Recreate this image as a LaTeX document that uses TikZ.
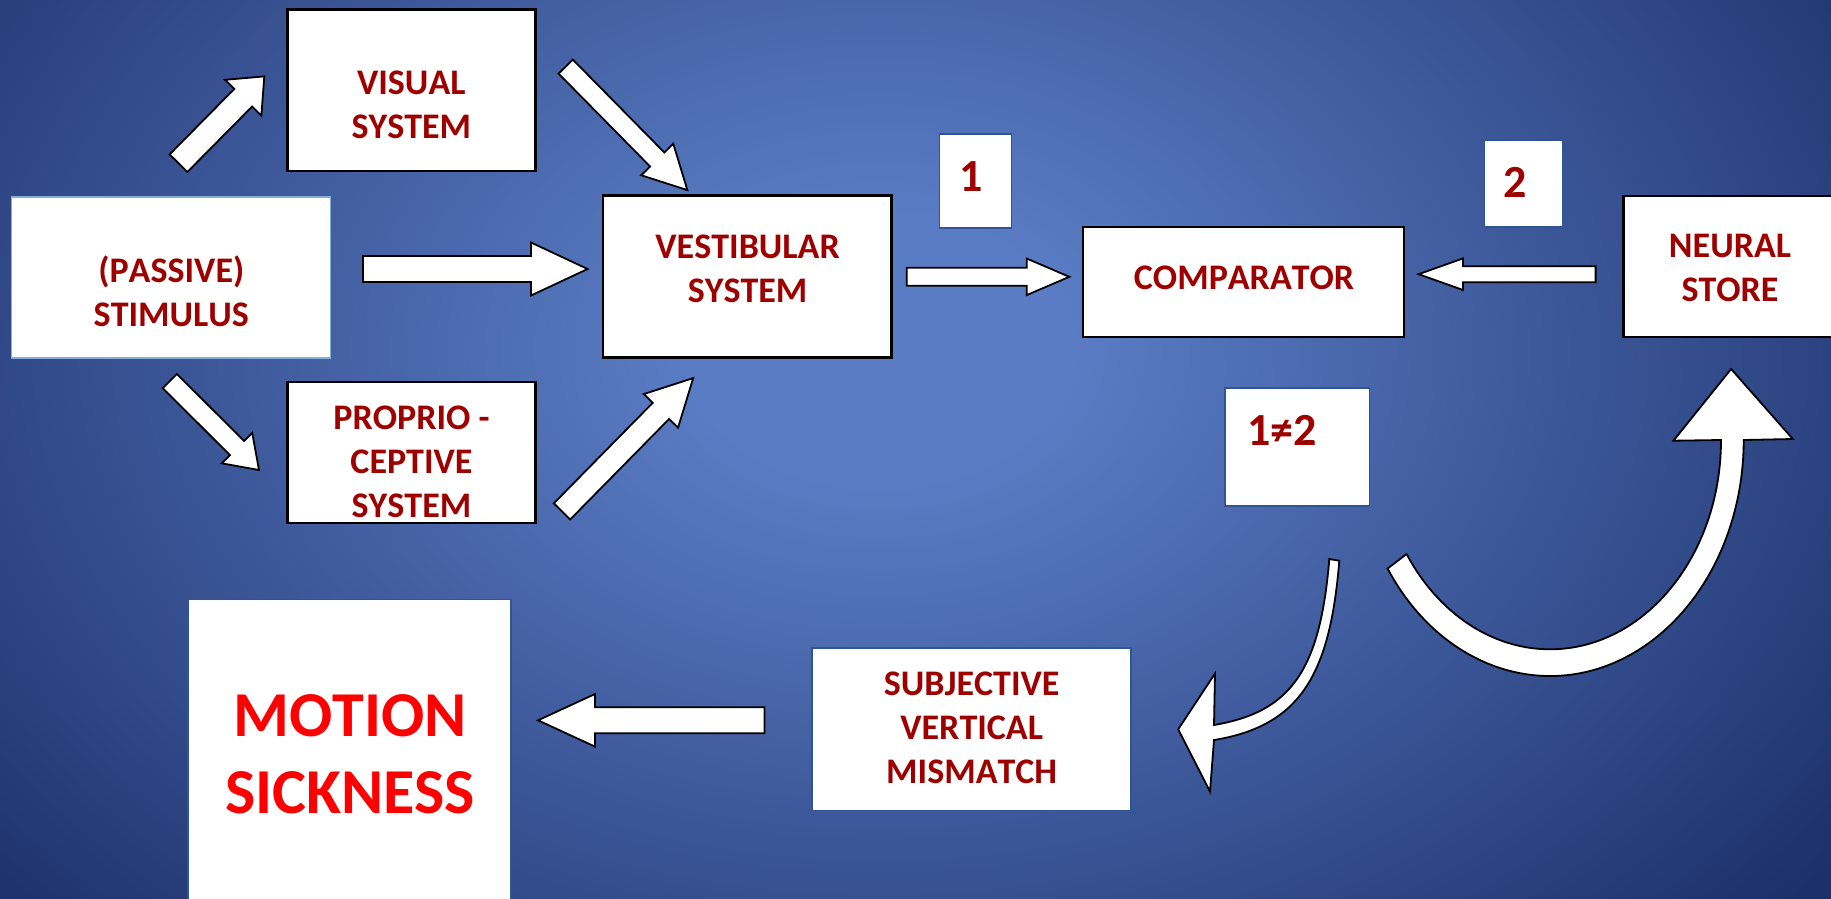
\documentclass[tikz,border=0pt]{standalone}
\usepackage{fontspec}
\setmainfont{Carlito}[Kerning=Off]
\usetikzlibrary{calc}

\definecolor{bglight}{RGB}{90,124,196}
\definecolor{bgdark}{RGB}{28,48,106}
\definecolor{labelred}{RGB}{158,0,0}
\definecolor{alertred}{RGB}{255,0,0}
\definecolor{boxblue}{RGB}{47,85,151}
\definecolor{paleblue}{RGB}{130,175,215}

% slide background: light centre fading to dark blue
\pgfdeclareradialshading{slidebg}{\pgfpoint{0bp}{0bp}}{%
  color(0bp)=(bglight); color(4bp)=(bglight); color(25bp)=(bgdark); color(50bp)=(bgdark)}

\tikzset{
  panel/.style={rectangle, fill=white, draw=black, line width=2.5pt, inner sep=0pt},
  bluepanel/.style={panel, draw=boxblue, line width=1.6pt},
  stimpanel/.style={panel, draw=paleblue, line width=1.5pt},
  boxtext/.style={text=labelred, font=\bfseries\fontsize{36}{44}\selectfont, align=center, inner sep=0pt},
  numtext/.style={boxtext, font=\bfseries\fontsize{46}{55}\selectfont},
  alerttext/.style={boxtext, text=alertred, font=\bfseries\fontsize{64}{76.5}\selectfont},
  barrow/.style={fill=white, draw=black, line width=1.8pt, line join=miter},
}

% block arrow: #1 tail, #2 tip, #3 half shaft width, #4 half head width, #5 head length
\newcommand\blockarrow[5]{%
  \coordinate (ba-h) at ($(#2)!#5!(#1)$);
  \filldraw[barrow] ($(#1)!#3!90:(#2)$) -- ($(ba-h)!#3!90:(#2)$) -- ($(ba-h)!#4!90:(#2)$)
    -- (#2) -- ($(ba-h)!#4!-90:(#2)$) -- ($(ba-h)!#3!-90:(#2)$) -- ($(#1)!#3!-90:(#2)$) -- cycle;
}

\begin{document}
\begin{tikzpicture}[x=1pt, y=-1pt]
\useasboundingbox (0,0) rectangle (1831,898);
\clip (-4,-4) rectangle (1835,902);
\fill[bgdark] (-4,-4) rectangle (1835,902);
\shade[shading=slidebg] (880,350) ellipse [x radius=1200, y radius=850];

% boxes
\node[stimpanel, minimum width=318.6pt, minimum height=161pt] (stimulus) at (171,277.5) {};
\node[panel, minimum width=248pt, minimum height=161.2pt] (visual) at (411.7,90.2) {};
\node[panel, minimum width=248pt, minimum height=141pt] (proprio) at (411.7,452.5) {};
\node[panel, minimum width=288.8pt, minimum height=161.8pt] (vestibular) at (747.2,276.5) {};
\node[bluepanel, minimum width=72pt, minimum height=94pt] (one) at (975.5,180.7) {};
\node[panel, minimum width=320.8pt, minimum height=109.7pt] (comparator) at (1243.6,281.9) {};
\node[bluepanel, minimum width=77.7pt, minimum height=87pt] (two) at (1523.5,183.5) {};
\node[panel, minimum width=236.4pt, minimum height=140.7pt] (neural) at (1741.8,266.4) {};
\node[bluepanel, minimum width=144.6pt, minimum height=118.3pt] (neq) at (1297,446.9) {};
\node[bluepanel, minimum width=319.3pt, minimum height=162.6pt] (subjective) at (971.4,729) {};
\node[bluepanel, minimum width=323.3pt, minimum height=320.7pt] (motion) at (349.6,759.7) {};

% box texts
\node[boxtext] (stimulus-text) at (171.3,291) {(PASSIVE)\\STIMULUS};
\node[boxtext] (visual-text) at (411.3,104.5) {VISUAL\\SYSTEM};
\node[boxtext] (proprio-text) at (411.5,462) {PROPRIO -\\CEPTIVE\\SYSTEM};
\node[boxtext] (vestibular-text) at (747.6,268.6) {VESTIBULAR\\SYSTEM};
\node[boxtext] (comparator-text) at (1244.1,278.3) {COMPARATOR};
\node[boxtext] (neural-text) at (1730,268.4) {NEURAL\\STORE};
\node[boxtext] (subjective-text) at (971.7,727.5) {SUBJECTIVE\\VERTICAL\\MISMATCH};
\node[alerttext] (motion-text) at (350.1,754.2) {MOTION\\SICKNESS};
\node[numtext] (one-text) at (970.8,176.7) {1};
\node[numtext] (two-text) at (1515.3,182) {2};
\node[numtext] (neq-text) at (1281.8,430.3) {1≠2};

% straight block arrows
\coordinate (sv-t) at (178.5,163.2);  \coordinate (sv-h) at (264.3,76.4);
\coordinate (vv-t) at (565.7,66.6);   \coordinate (vv-h) at (687.4,190.1);
\coordinate (st-t) at (363,269);      \coordinate (st-h) at (587.6,269);
\coordinate (sp-t) at (169.8,381);    \coordinate (sp-h) at (259,470);
\coordinate (pv-t) at (562,511.4);    \coordinate (pv-h) at (693.2,378.1);
\coordinate (vc-t) at (906.7,276.8);  \coordinate (vc-h) at (1069.3,276.8);
\coordinate (nc-t) at (1595.6,274.2); \coordinate (nc-h) at (1418.6,274.2);
\coordinate (sm-t) at (764.4,720.3);  \coordinate (sm-h) at (538,720.3);

\blockarrow{sv-t}{sv-h}{12.5pt}{25.5pt}{30pt}
\blockarrow{vv-t}{vv-h}{10pt}{22.5pt}{43pt}
\blockarrow{st-t}{st-h}{13pt}{26.5pt}{56.6pt}
\blockarrow{sp-t}{sp-h}{10pt}{21.5pt}{31pt}
\blockarrow{pv-t}{pv-h}{11.5pt}{24pt}{46pt}
\blockarrow{vc-t}{vc-h}{9pt}{18.3pt}{42.6pt}
\blockarrow{nc-t}{nc-h}{8pt}{15.8pt}{44.4pt}
\blockarrow{sm-t}{sm-h}{13pt}{26.3pt}{57pt}

% thin curved arrow towards the mismatch box
\filldraw[barrow] (1339.3,560.7) .. controls (1330,675) and (1300,726) .. (1214,740)
  -- (1210,791.5) -- (1178.2,729.3) -- (1215,673.5) -- (1214,725)
  .. controls (1290,712) and (1320,672) .. (1329.3,559) -- cycle;

% wide curved arrow up to the neural store
\begin{scope}[shift={(1550,440)}]
\filldraw[barrow] (147:193.7 and 236) arc[start angle=147, end angle=0, x radius=193.7, y radius=236]
  -- (242.8,-1) -- (181.1,-71) -- (123.4,0.7) -- (171,0)
  arc[start angle=0, end angle=147, x radius=171, y radius=209.3] -- cycle;
\end{scope}
\end{tikzpicture}
\end{document}
